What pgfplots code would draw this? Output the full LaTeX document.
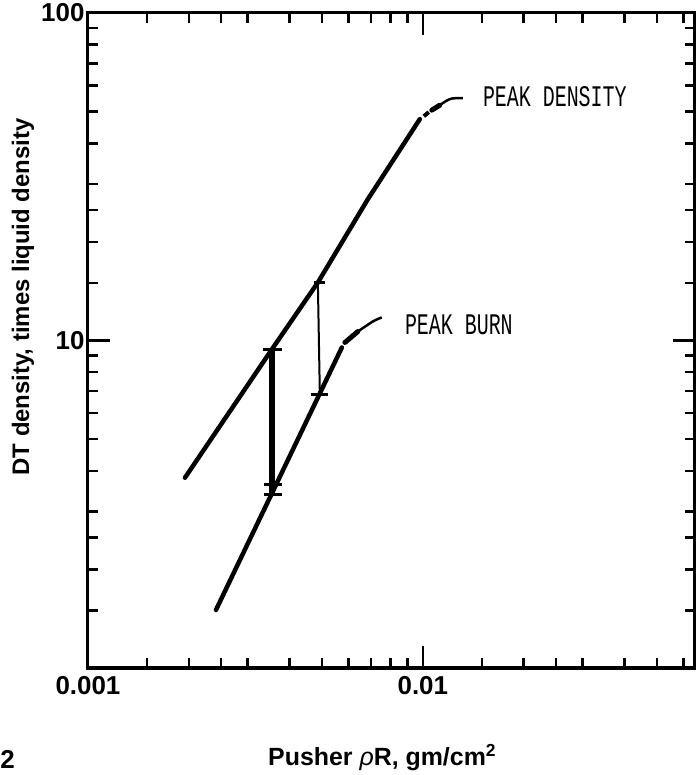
\documentclass[border=0pt]{standalone}
\usepackage{fontspec}
\setmainfont{Liberation Sans}
\newfontfamily\plotfont{Liberation Mono}
\usepackage{graphicx}
\usepackage{pgfplots}
\pgfplotsset{compat=1.18}
\begin{document}
\begin{tikzpicture}
\path (-88bp,-107bp) rectangle (610bp,668bp);
\begin{axis}[
  at={(0,0)}, anchor=south west,
  scale only axis, width=607bp, height=655bp,
  xmode=log, ymode=log,
  xmin=0.001, xmax=0.065, ymin=1, ymax=100,
  axis line style={line width=3bp},
  xtick={0.001,0.01}, xticklabels={0.001,0.01},
  ytick={1,10,100}, yticklabels={,10,100},
  minor xtick={0.0015,0.002,0.0025,0.003,0.004,0.005,0.006,0.007,0.008,0.009,0.015,0.02,0.025,0.03,0.04,0.05,0.06},
  minor ytick={1.5,2,2.5,3,4,5,6,7,8,9,15,20,25,30,40,50,60,70,80,90},
  major tick length=22bp, minor tick length=10bp,
  major tick style={line width=2.5bp,black},
  minor tick style={line width=2.5bp,black},
  tick label style={font=\bfseries\fontsize{26}{26}\selectfont},
  xticklabel style={yshift=-5bp},
  clip=false,
]
% PEAK DENSITY line
\addplot[black, line width=4.5bp, line cap=round] coordinates {(0.001948,3.81) (0.003540,9.39) (0.004859,15.04) (0.006852,27.0) (0.009795,47.4)};
\addplot[black, line width=4bp] coordinates {(0.010069,48.4) (0.010421,49.8)};
\addplot[black, line width=5bp, line cap=round] coordinates {(0.010638,50.5) (0.011236,52.3)};
\addplot[black, line width=2.5bp, smooth] coordinates {(0.011236,52.3) (0.011714,53.8) (0.012205,54.8) (0.013165,55.0)};
% PEAK BURN line
\addplot[black, line width=4.5bp, line cap=round] coordinates {(0.002411,1.504) (0.005731,9.52)};
\addplot[black, line width=5bp, line cap=round] coordinates {(0.005853,9.86) (0.006397,10.65)};
\addplot[black, line width=2.5bp, smooth] coordinates {(0.006397,10.65) (0.007090,11.43) (0.007542,11.76)};
% thick bar
\addplot[black, line width=6bp] coordinates {(0.003540,9.39) (0.003540,3.38)};
\addplot[black, line width=3bp] coordinates {(0.003330,9.39) (0.003790,9.39)};
\addplot[black, line width=3bp] coordinates {(0.003350,3.63) (0.003790,3.63)};
\addplot[black, line width=3bp] coordinates {(0.003350,3.38) (0.003790,3.38)};
% thin bar
\addplot[black, line width=2bp] coordinates {(0.004859,15.04) (0.004926,6.84)};
\addplot[black, line width=2.5bp] coordinates {(0.004727,15.04) (0.005101,15.04)};
\addplot[black, line width=2.5bp] coordinates {(0.004631,6.84) (0.005204,6.84)};
% labels
\node[anchor=west, inner sep=0pt, font=\plotfont\fontsize{30}{30}\selectfont] at (axis cs:0.01511,55.7) {\scalebox{0.667}[1]{PEAK DENSITY}};
\node[anchor=west, inner sep=0pt, font=\plotfont\fontsize{30}{30}\selectfont] at (axis cs:0.008837,11.19) {\scalebox{0.667}[1]{PEAK BURN}};
\end{axis}
\node[rotate=90, anchor=center, font=\bfseries\fontsize{24}{24}\selectfont] at (-65bp,371bp) {DT density, times liquid density};
\node[anchor=base west, inner sep=0pt, font=\bfseries\fontsize{25}{25}\selectfont] at (180bp,-97bp) {Pusher {\mdseries\itshape ρ}R, gm/cm\textsuperscript{2}};
\node[anchor=base east, inner sep=0pt, font=\bfseries\fontsize{26}{26}\selectfont] at (-73bp,-100bp) {2};
\end{tikzpicture}
\end{document}
